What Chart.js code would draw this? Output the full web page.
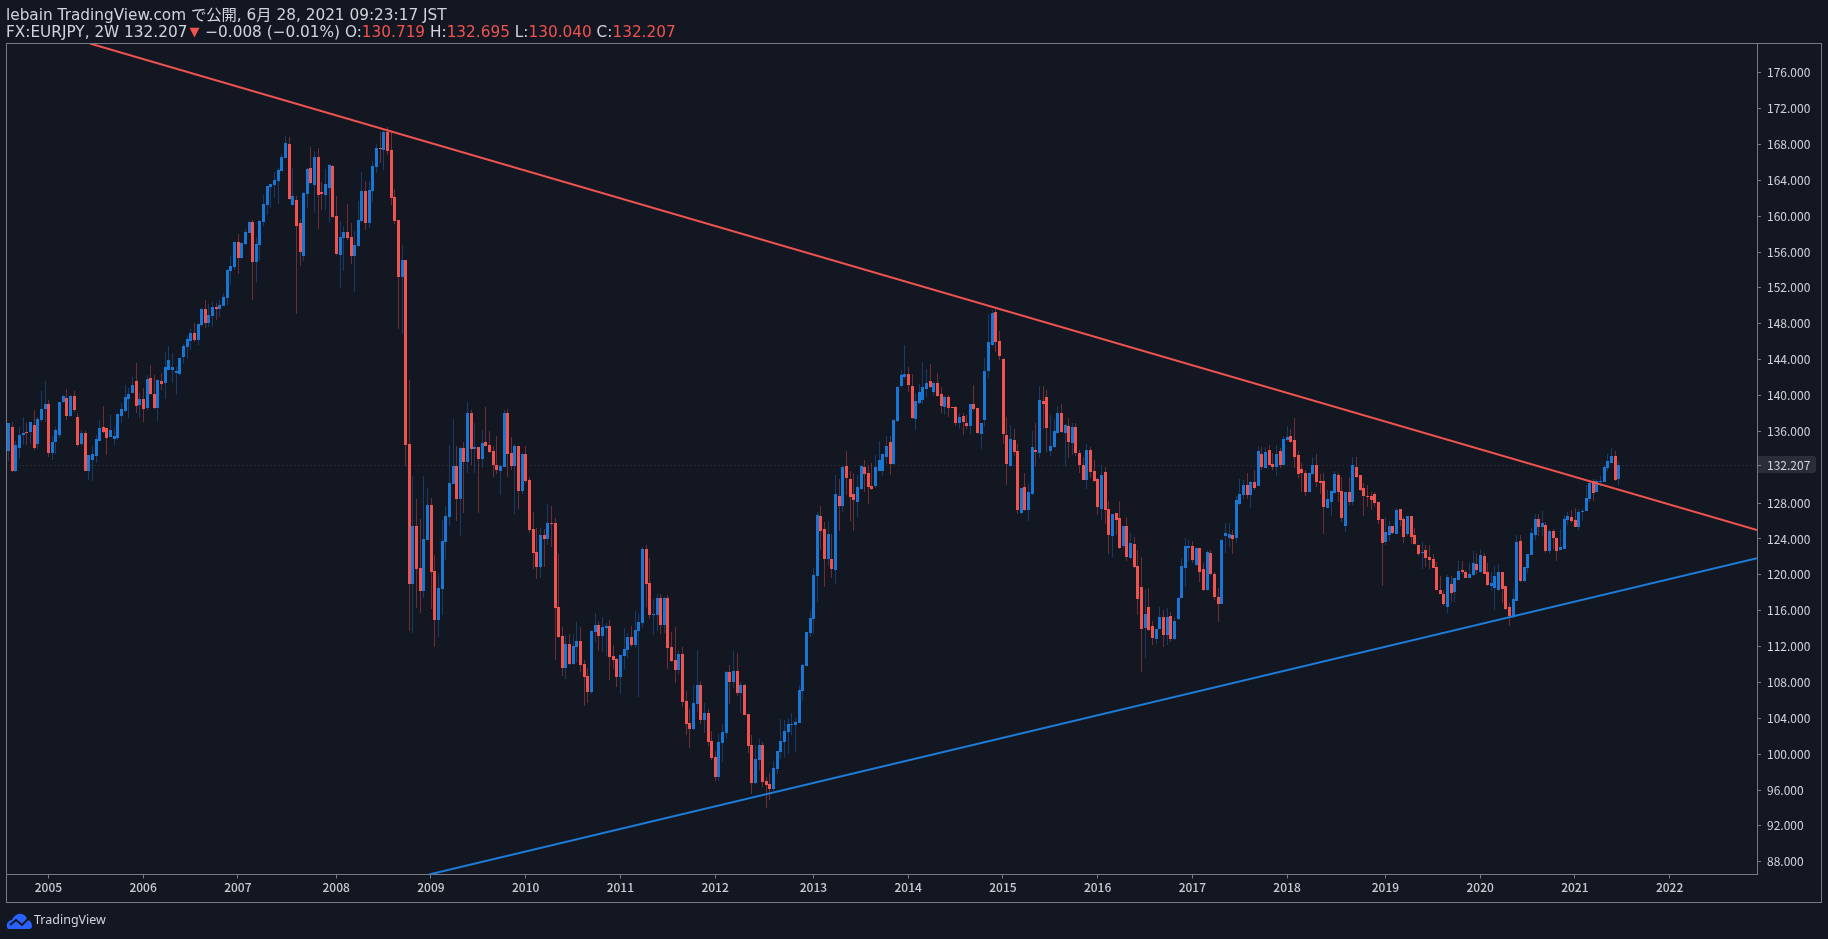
<!DOCTYPE html>
<html lang="ja">
<head>
<meta charset="utf-8">
<title>FX:EURJPY, 2W</title>
<script src="https://cdn.jsdelivr.net/npm/chart.js@4/dist/chart.umd.min.js"></script>
<style>
  html, body { margin: 0; padding: 0; background: #131722; width: 1828px; height: 939px; overflow: hidden; }
  body { position: relative; font-family: "DejaVu Sans", "Noto Sans CJK JP", sans-serif; color: #d1d4dc; }
  #chart { position: absolute; left: 0; top: 0; }
  #frame { position: absolute; left: 6px; top: 43px; width: 1816px; height: 860px; border: 1px solid #787b86; box-sizing: border-box; pointer-events: none; }
  .head { position: absolute; left: 6px; font-size: 15.3px; line-height: 18px; white-space: nowrap; }
  #head1 { top: 6px; }
  #head2 { top: 23px; }
  .dn { color: #ef5350; }
  #arrow { font-size: 13px; vertical-align: 1px; margin: 0 1px 0 2px; }
  #brand { position: absolute; left: 34px; top: 911px; font-family: "Noto Sans", sans-serif; font-size: 12.5px; line-height: 18px; color: #d1d4dc; }
  #logo { position: absolute; left: 6px; top: 912px; }
</style>
</head>
<body>
<canvas id="chart" width="1828" height="939"></canvas>
<div id="frame"></div>
<div class="head" id="head1">lebain TradingView.com で公開, 6月 28, 2021 09:23:17 JST</div>
<div class="head" id="head2">FX:EURJPY, 2W 132.207<span class="dn" id="arrow">▼</span> −0.008 (−0.01%) O:<span class="dn">130.719</span> H:<span class="dn">132.695</span> L:<span class="dn">130.040</span> C:<span class="dn">132.207</span></div>
<svg id="logo" width="27" height="18" viewBox="0 0 27 18">
  <path d="M1 15 C0 11 3 8 6 8 C8 3 14 0 18 3 C20 4 21 6 21 8 C24 8 26 11 26 14 C26 16 25 17 23 17 L3 17 C2 17 1 16 1 15 Z" fill="#2962ff"/>
  <path d="M4 13 L10 8 L16 13 L22 7" fill="none" stroke="#131722" stroke-width="2"/>
</svg>
<div id="brand">TradingView</div>
<script>
// EURJPY, 2 week candles
const opens = [
  133.86,136.5,131.59,134.15,135.6,135.94,135.94,136.72,134.6,137.28,
  138.5,139.06,133.6,134.82,135.6,139.28,139.73,137.72,139.95,137.61,
  134.6,135.83,131.59,132.82,133.26,134.94,136.5,136.38,135.38,135.16,
  135.27,137.72,138.28,139.62,140.29,141.63,138.95,139.62,138.61,141.96,
  140.18,138.61,141.63,141.4,142.85,142.85,142.52,142.41,144.3,145.42,
  146.09,146.98,146.2,147.87,149.65,148.09,148.87,149.88,149.65,149.99,
  150.88,153.89,154.34,157.13,155.34,156.9,158.13,159.36,154.9,156.79,
  159.36,161.25,163.26,163.48,163.93,165.04,166.49,168.05,161.25,161.81,
  159.24,155.56,162.48,165.38,163.48,166.6,162.7,162.37,163.15,165.6,
  160.03,155.68,157.57,158.24,157.68,155.56,156.68,159.47,162.81,159.24,
  162.81,165.49,167.61,167.38,169.39,167.38,162.14,159.58,153.22,155.12,
  134.59,118.98,125.43,120.77,118.18,123.88,127.78,120.41,114.95,118.42,
  123.64,126.43,130.13,132.12,128.46,134.16,132.56,138.06,134.04,134.24,
  132.92,134.79,134.48,133.8,132.25,131.57,132.0,138.06,133.6,132.17,
  134.36,129.34,133.48,130.57,125.11,122.52,120.85,124.44,124.0,125.79,
  125.79,116.39,113.16,109.62,112.28,110.05,111.93,112.62,110.05,108.72,
  106.93,113.68,114.4,113.16,114.12,114.28,110.95,110.61,108.6,110.95,
  111.61,113.06,112.17,113.73,114.63,122.89,119.09,115.53,115.53,117.42,
  114.41,117.42,111.96,110.51,109.39,111.18,105.94,103.48,102.81,105.6,
  107.72,103.82,104.6,101.48,99.69,97.46,101.25,102.37,109.17,108.06,
  109.28,106.83,107.72,104.49,101.03,96.79,99.36,101.03,97.02,96.68,
  96.12,98.35,100.25,101.36,102.48,103.26,103.26,103.48,107.05,109.84,
  113.52,115.08,119.87,126.57,125.12,121.77,121.77,120.54,128.79,127.68,
  132.14,130.69,129.02,128.12,129.57,132.03,131.36,129.91,129.91,131.58,
  131.58,133.14,134.82,132.36,137.16,141.06,142.06,142.4,141.06,137.38,
  139.16,139.5,140.73,141.62,140.39,141.39,140.17,138.72,139.83,138.72,
  138.72,136.93,137.71,136.93,136.6,139.05,138.6,135.71,137.27,142.73,
  145.63,149.31,146.08,144.07,135.6,132.14,135.04,133.81,126.9,129.8,
  127.23,129.02,133.92,133.59,139.39,139.83,133.81,134.26,135.82,138.05,
  135.82,136.6,134.7,136.49,133.59,132.21,130.58,133.92,131.58,130.69,
  127.34,131.47,127.34,124.33,126.9,126.34,123.22,125.45,121.88,123.44,
  120.99,118.65,114.08,116.42,114.3,112.85,113.96,115.3,113.29,115.41,
  112.85,115.08,117.42,120.77,123.0,123.22,121.1,123.0,120.65,118.31,
  122.44,120.1,117.53,116.75,124.33,124.11,124.45,124.11,127.9,128.91,
  130.02,128.91,130.36,129.91,133.48,131.92,133.92,132.36,132.03,133.81,
  132.25,135.04,135.49,135.04,133.37,131.81,131.36,129.24,131.25,132.25,
  130.47,130.47,127.46,128.13,129.13,131.14,129.35,125.45,129.24,128.13,
  132.03,131.14,129.69,128.8,128.8,129.02,128.13,126.23,123.67,124.45,
  125.45,124.56,127.35,126.23,124.56,126.56,124.45,123.33,122.44,122.77,
  121.99,121.77,120.88,118.31,117.87,116.42,118.98,118.09,119.43,120.54,
  120.32,119.65,119.99,121.21,120.32,122.1,120.32,118.76,118.54,118.31,
  120.32,118.76,116.42,115.3,117.09,123.78,119.32,120.77,122.22,124.45,
  126.23,125.34,125.56,122.66,124.89,124.11,122.77,122.89,126.12,126.45,
  126.12,125.34,127.01,127.12,128.46,130.47,129.24,130.36,130.36,131.92,
  132.48,133.26,130.719
];
const highs = [
  136.98,137.09,134.97,136.53,137.61,136.98,137.05,138.39,137.65,140.51,
  141.63,139.51,135.49,136.53,139.32,140.06,140.73,140.06,140.51,138.09,
  136.16,136.05,133.37,134.38,135.6,137.28,138.84,136.38,137.83,136.53,
  138.09,139.14,141.18,140.81,142.11,143.63,140.25,140.81,142.29,143.41,
  142.29,141.81,142.48,144.9,145.53,144.71,143.22,144.19,145.75,146.64,
  147.42,148.09,147.98,149.73,150.66,150.21,150.43,150.29,150.66,151.4,
  154.08,155.56,157.13,158.02,157.13,158.58,159.47,159.58,157.68,159.58,
  162.37,163.37,163.59,164.97,165.34,166.9,168.95,168.83,165.38,162.26,
  159.69,162.7,165.34,167.72,167.27,167.61,163.82,165.27,165.79,165.71,
  162.26,159.47,158.91,161.36,159.24,158.35,161.7,164.93,163.93,163.93,
  166.16,168.05,169.39,169.69,169.91,169.39,163.04,159.58,156.79,155.12,
  141.73,131.01,128.42,126.23,131.01,129.69,128.58,122.21,120.05,126.11,
  127.66,134.48,137.38,134.36,134.28,134.79,139.26,138.38,136.95,134.28,
  136.15,138.7,136.03,134.4,135.47,132.25,138.38,138.5,135.35,134.59,
  134.36,133.56,134.36,130.89,126.99,125.23,125.23,125.07,127.86,127.66,
  126.31,122.28,114.16,113.28,113.4,113.36,114.71,114.18,110.5,109.57,
  113.8,115.75,114.83,115.35,114.6,114.95,112.17,110.69,111.06,114.07,
  113.51,114.29,115.95,115.59,123.15,123.33,121.88,117.31,117.87,117.87,
  117.5,117.76,113.63,114.19,111.62,111.96,107.05,105.04,107.72,111.62,
  108.17,105.71,105.04,102.59,100.36,102.22,103.37,109.28,109.95,111.51,
  111.29,108.06,107.83,104.49,102.14,101.03,101.7,101.36,97.46,97.91,
  99.25,100.36,103.93,103.82,104.04,104.6,104.04,107.72,110.06,113.63,
  115.97,120.77,127.01,127.68,125.9,126.01,124.56,131.14,130.69,132.14,
  133.81,131.58,131.36,131.14,132.25,132.81,132.25,132.47,133.37,134.93,
  133.48,135.48,135.48,137.34,141.06,142.84,145.63,143.18,142.4,140.28,
  141.28,143.74,142.96,143.51,141.5,142.51,140.95,139.95,140.06,138.72,
  138.83,138.05,138.01,137.83,139.05,141.17,138.6,136.93,144.18,149.09,
  149.53,149.65,147.19,144.18,137.6,136.71,136.27,134.59,129.69,131.36,
  130.13,136.04,136.93,141.06,141.06,140.61,137.83,137.38,138.83,139.05,
  136.82,137.49,136.93,136.93,133.92,133.14,134.59,134.26,132.81,130.8,
  132.25,132.03,128.24,126.79,126.9,128.24,125.45,126.45,124.67,124.22,
  122.77,121.99,118.42,118.55,114.86,114.08,116.42,116.08,116.3,115.86,
  115.3,117.53,121.88,124.11,123.89,123.78,123.0,123.0,121.29,122.77,
  122.77,120.32,118.5,123.96,125.78,125.78,125.0,128.8,130.69,130.58,
  131.36,130.47,131.69,134.37,134.26,134.26,134.48,133.55,134.48,134.15,
  135.49,136.6,136.27,137.49,133.81,132.47,131.69,131.36,133.14,133.48,
  131.25,131.36,129.46,129.46,131.58,131.36,130.91,129.24,130.91,133.14,
  133.14,131.14,130.24,130.02,129.24,129.24,128.13,126.23,126.45,126.01,
  125.45,127.46,127.35,126.45,126.56,126.56,125.23,123.33,123.67,123.33,
  123.33,122.33,121.44,119.87,118.2,119.99,119.87,119.65,121.55,121.55,
  120.54,121.29,122.66,122.44,122.88,122.44,121.32,120.32,120.99,121.21,
  120.32,118.76,116.86,118.31,124.45,124.45,120.88,122.33,125.23,126.79,
  126.79,127.12,125.9,125.12,125.12,124.22,125.12,126.68,127.01,127.23,
  127.46,127.35,127.35,130.02,130.36,130.69,130.69,131.03,132.25,133.48,
  134.15,133.81,132.695
];
const lows = [
  132.71,131.52,131.52,132.93,134.49,134.49,134.6,133.93,134.04,137.09,
  137.09,133.19,132.82,133.49,135.23,139.14,137.28,137.57,138.2,134.3,
  134.38,131.59,130.59,130.48,132.44,134.94,135.79,133.37,135.34,134.49,
  135.05,136.91,138.2,137.46,140.25,138.09,137.46,137.09,138.39,140.06,
  138.47,137.17,140.62,139.62,142.85,141.37,140.06,142.29,143.52,144.08,
  145.08,146.01,145.64,147.68,147.5,147.68,147.68,148.43,148.8,149.99,
  150.14,152.33,154.0,153.56,155.27,156.79,158.09,150.66,152.55,155.12,
  158.91,160.14,160.92,162.03,161.36,165.01,166.46,161.81,161.25,149.1,
  154.45,155.01,160.92,163.59,160.32,158.58,160.69,160.69,159.21,159.76,
  155.68,152.0,153.89,157.35,154.67,151.55,156.61,159.39,158.46,158.65,
  161.62,164.78,165.9,165.15,166.83,161.25,159.13,147.42,146.87,132.15,
  113.76,113.52,116.35,115.75,117.42,123.88,116.23,111.97,113.08,115.51,
  121.65,125.43,130.09,125.99,124.32,126.91,131.37,132.28,131.41,126.91,
  131.97,134.32,133.6,130.89,131.29,128.9,132.0,130.89,131.69,126.79,
  127.3,129.02,130.29,124.71,120.65,119.54,119.66,120.93,123.32,123.12,
  110.49,112.96,108.7,108.38,109.97,109.97,110.17,109.2,105.37,105.67,
  106.71,112.56,111.49,111.37,110.95,108.27,109.5,107.49,106.71,109.5,
  110.72,111.95,111.87,106.37,114.08,116.46,115.08,113.32,113.74,113.41,
  113.48,109.5,110.32,107.94,108.95,105.27,102.14,100.7,102.7,104.71,
  103.37,102.37,100.92,99.36,97.02,97.02,99.13,101.7,105.6,107.39,
  106.49,104.6,104.37,100.14,95.57,96.68,98.24,96.35,94.0,94.9,
  95.9,97.8,99.47,99.58,100.03,102.14,100.25,103.48,105.94,109.84,
  113.07,113.41,116.98,122.77,118.65,120.99,119.65,118.98,124.89,127.01,
  128.91,126.01,124.89,126.45,129.46,129.24,127.9,129.46,129.69,131.58,
  131.02,132.36,131.14,132.25,137.05,140.95,141.84,140.39,137.38,136.15,
  139.05,139.05,139.83,140.84,139.95,139.83,138.05,137.83,137.6,138.6,
  136.6,136.27,135.6,136.27,135.71,138.27,135.71,134.03,136.49,141.95,
  145.52,144.85,143.96,134.59,130.02,132.03,133.25,126.79,126.79,127.12,
  126.01,128.91,132.14,133.03,136.23,133.7,133.25,134.18,135.82,135.82,
  132.14,133.03,133.37,133.25,131.36,130.58,129.57,130.8,130.35,126.68,
  126.12,125.67,122.33,122.0,124.44,122.88,123.0,121.55,121.77,120.77,
  115.52,109.17,110.73,113.74,112.18,112.29,113.96,111.96,112.18,112.51,
  112.74,114.97,117.31,118.65,121.55,121.29,120.99,119.2,118.2,118.2,
  119.99,117.2,114.78,116.71,122.44,123.11,122.33,123.55,127.79,128.46,
  128.46,127.46,129.46,129.87,131.69,131.88,132.14,131.69,131.03,131.92,
  132.21,134.93,134.71,131.92,130.8,129.24,128.8,129.24,131.14,129.8,
  129.02,124.56,127.46,126.56,129.13,128.13,125.9,124.78,127.79,127.79,
  130.84,129.35,126.56,127.57,127.23,127.57,125.67,118.76,123.33,123.78,
  124.56,124.56,125.45,123.55,124.33,123.44,123.33,122.1,120.65,120.88,
  120.69,120.73,118.31,117.87,116.53,115.75,116.97,116.97,119.43,120.1,
  119.65,119.65,119.87,120.1,120.21,120.1,118.76,118.2,116.08,118.2,
  116.86,116.08,114.3,115.19,117.09,119.24,119.2,120.21,122.22,123.89,
  124.33,124.33,122.44,122.33,122.89,121.55,122.77,122.89,125.56,125.78,
  125.34,125.0,126.01,127.12,128.13,128.24,129.24,129.84,130.36,131.58,
  132.48,130.47,130.04
];
const closes = [
  136.98,131.59,134.49,135.6,135.83,135.83,137.05,134.15,137.39,138.5,
  139.06,133.6,134.82,136.16,139.28,139.95,137.72,139.95,138.39,134.49,
  135.83,131.59,133.37,133.49,135.16,136.38,135.94,135.27,136.16,135.49,
  137.95,138.5,139.84,140.18,141.18,138.84,139.62,138.5,141.85,140.18,
  138.61,141.74,141.29,143.19,143.97,143.19,142.74,144.19,145.53,146.31,
  146.98,146.2,147.98,149.65,148.09,148.98,149.88,149.65,150.1,150.99,
  154.0,154.45,157.13,155.34,157.01,158.24,159.36,154.9,156.9,159.47,
  161.36,163.37,163.59,164.04,165.15,166.6,168.17,161.92,162.26,158.91,
  156.01,162.59,165.27,163.7,166.6,162.37,162.48,163.59,165.71,159.91,
  155.79,157.68,158.24,157.57,155.56,156.79,159.58,162.81,159.24,162.92,
  165.6,167.61,167.5,169.39,167.27,162.03,159.47,153.22,155.12,134.49,
  118.98,125.43,120.65,118.18,124.0,127.78,120.29,114.95,118.54,123.76,
  126.55,130.25,132.12,128.46,134.16,132.56,138.06,134.04,134.28,132.92,
  134.75,134.36,133.68,132.25,131.73,132.12,138.06,133.48,132.12,134.4,
  129.34,133.48,130.45,124.99,122.44,120.85,124.44,124.0,125.79,125.67,
  116.31,113.04,109.62,112.28,110.05,112.05,112.64,109.94,108.6,106.93,
  113.73,114.4,113.16,114.16,114.28,110.85,110.5,108.6,111.06,111.73,
  113.06,112.17,113.84,114.74,122.89,118.98,115.53,115.6,117.42,114.41,
  117.42,111.85,110.4,109.39,111.18,105.82,103.37,102.81,105.71,107.72,
  103.82,104.6,101.36,99.58,97.46,101.36,102.48,109.17,108.06,109.28,
  106.83,107.72,104.37,100.92,96.79,99.47,101.03,96.9,96.57,96.12,
  98.46,100.36,101.48,102.59,103.37,103.37,103.59,107.16,109.95,113.63,
  115.19,119.99,126.68,124.89,121.77,124.56,120.66,129.02,127.68,132.03,
  130.8,128.68,128.35,129.8,132.14,131.25,129.8,129.57,132.03,132.81,
  133.48,134.37,132.36,137.27,140.95,142.29,142.4,141.17,137.49,139.39,
  140.39,140.95,141.39,140.95,141.39,139.95,138.83,139.83,138.6,138.6,
  136.93,137.6,137.05,136.6,139.05,138.5,135.82,136.93,142.73,145.97,
  149.2,145.97,144.41,135.71,132.36,135.15,133.7,127.23,129.69,127.23,
  129.24,134.26,133.7,139.5,139.05,136.38,134.37,136.04,138.05,135.89,
  136.71,134.82,136.49,133.59,132.21,130.58,133.92,131.47,130.47,127.57,
  131.14,127.23,124.44,126.79,126.12,123.0,125.45,122.0,123.55,120.88,
  117.31,113.96,115.64,113.85,112.96,113.96,115.3,113.29,115.3,112.85,
  114.86,117.42,120.99,123.22,123.22,121.66,123.0,120.32,118.31,122.55,
  120.1,117.53,116.75,123.89,124.63,124.56,124.0,128.35,129.02,130.02,
  128.91,130.36,129.69,133.81,132.03,133.7,132.25,132.03,133.48,132.25,
  135.15,135.37,134.82,133.14,131.25,131.36,129.24,131.36,132.25,130.36,
  130.24,127.57,128.46,129.35,131.25,129.24,126.34,129.24,128.13,132.25,
  130.91,129.46,128.8,128.68,128.35,128.01,126.12,123.55,124.78,125.45,
  124.67,127.23,126.12,124.22,126.56,124.22,123.44,122.33,122.55,121.88,
  121.66,120.77,118.31,117.87,116.75,119.76,117.98,119.65,120.43,120.32,
  119.65,120.1,121.32,120.54,122.22,120.1,118.87,119.09,119.87,120.32,
  118.42,116.19,115.41,117.31,123.67,119.32,120.88,122.33,124.67,126.23,
  125.34,125.78,122.66,124.89,124.11,122.66,123.11,126.23,126.57,126.01,
  125.34,127.01,127.12,128.57,130.25,129.13,130.47,130.47,132.03,132.7,
  133.26,130.58,132.207
];

// axis ticks
const yearLabels = [2005,2006,2007,2008,2009,2010,2011,2012,2013,2014,2015,2016,2017,2018,2019,2020,2021,2022];
const yearBars = [11,37,63,90,116,142,168,194,221,247,273,299,325,351,378,404,430,456];
const priceTicks = [88,92,96,100,104,108,112,116,120,124,128,136,140,144,148,152,156,160,164,168,172,176];
const lastPrice = 132.207;

// drawn trend lines, bar number and price at each end
const fallingLineBars = [22.4, 480];
const fallingLinePrices = [179.26, 125.0];
const risingLineBars = [115.5, 480];
const risingLinePrices = [86.58, 121.85];

const xMin = -0.5, xMax = 480;
const yMin = 86.58, yMax = 179.26;

const RED = '#ef5350';
const BLUE = '#1976d2';
const RED_WICK = 'rgba(239,83,80,0.4)';
const BLUE_WICK = 'rgba(25,118,210,0.4)';
const AXIS = '#787b86';
const FONT = '"Noto Sans CJK JP", "Noto Sans", sans-serif';

const isUp = (i) => closes[i] >= opens[i];

const wicks = highs.map((h, i) => ({ x: i, y: [lows[i], h] }));
const bodies = opens.map((o, i) => ({ x: i, y: [o, closes[i]] }));
const toLine = (xs, ys) => xs.map((x, i) => ({ x, y: ys[i] }));

// bars land on whole pixels so they stay sharp like the original
const snapBars = {
  id: 'snapBars',
  afterDatasetsUpdate(chart) {
    chart.data.datasets.forEach((ds, d) => {
      if (ds.type !== 'bar') return;
      chart.getDatasetMeta(d).data.forEach((el) => {
        el.x = Math.floor(el.x + 0.25) + 0.5;
        el.width = ds.maxBarThickness;
        const top = Math.round(Math.min(el.y, el.base));
        let bottom = Math.round(Math.max(el.y, el.base));
        if (bottom === top) bottom = top + 1;
        el.y = top;
        el.base = bottom;
      });
    });
  }
};

// dark tag behind the last price on the right axis
const priceTag = {
  id: 'priceTag',
  beforeDraw(chart) {
    const { ctx, scales } = chart;
    const y = Math.round(scales.y.getPixelForValue(lastPrice));
    ctx.save();
    ctx.fillStyle = '#2a2e39';
    ctx.beginPath();
    ctx.roundRect(1757, y - 9, 59, 17, [0, 3, 3, 0]);
    ctx.fill();
    ctx.restore();
  }
};

new Chart(document.getElementById('chart'), {
  type: 'bar',
  data: {
    datasets: [
      {
        type: 'line',
        data: toLine([xMin, xMax], [lastPrice, lastPrice]),
        borderColor: '#3a3e49',
        borderWidth: 1,
        borderDash: [1, 3],
        pointRadius: 0,
        order: 4
      },
      {
        type: 'bar',
        data: wicks,
        backgroundColor: wicks.map((w, i) => isUp(i) ? BLUE_WICK : RED_WICK),
        maxBarThickness: 1,
        order: 3
      },
      {
        type: 'bar',
        data: bodies,
        backgroundColor: bodies.map((b, i) => isUp(i) ? BLUE : RED),
        maxBarThickness: 3,
        order: 2
      },
      {
        type: 'line',
        data: toLine(fallingLineBars, fallingLinePrices),
        borderColor: RED,
        borderWidth: 2,
        pointRadius: 0,
        order: 1
      },
      {
        type: 'line',
        data: toLine(risingLineBars, risingLinePrices),
        borderColor: '#1e7bd6',
        borderWidth: 2,
        pointRadius: 0,
        order: 1
      }
    ]
  },
  options: {
    responsive: false,
    animation: false,
    devicePixelRatio: 1,
    layout: { padding: { left: 6.5, top: 43.5, right: 6.5, bottom: 37 } },
    datasets: {
      bar: {
        grouped: false,
        categoryPercentage: 1,
        barPercentage: 1,
        borderWidth: 0,
        borderSkipped: false,
        inflateAmount: 0
      }
    },
    plugins: {
      legend: { display: false },
      title: { display: false },
      tooltip: { enabled: false }
    },
    scales: {
      x: {
        type: 'linear',
        min: xMin,
        max: xMax,
        offset: false,
        afterBuildTicks(scale) {
          scale.ticks = yearBars.map((value) => ({ value }));
        },
        afterFit(scale) {
          scale.height = 27.5;
        },
        grid: { drawOnChartArea: false, offset: false, tickLength: 4, tickColor: AXIS },
        border: { color: AXIS },
        ticks: {
          autoSkip: false,
          maxRotation: 0,
          padding: 2,
          color: '#c9cbd1',
          font: { family: FONT, size: 12, weight: '500' },
          callback: (value) => yearLabels[yearBars.indexOf(value)]
        }
      },
      y: {
        type: 'linear',
        position: 'right',
        min: yMin,
        max: yMax,
        afterBuildTicks(scale) {
          scale.ticks = priceTicks.concat(lastPrice).map((value) => ({ value }));
        },
        afterFit(scale) {
          scale.width = 64.5;
        },
        grid: { drawOnChartArea: false, tickLength: 4, tickColor: AXIS },
        border: { color: AXIS },
        ticks: {
          autoSkip: false,
          padding: 6,
          color: '#d1d4dc',
          font: { family: FONT, size: 12 },
          callback: (value) => value.toFixed(3)
        }
      }
    }
  },
  plugins: [snapBars, priceTag]
});
</script>
</body>
</html>
